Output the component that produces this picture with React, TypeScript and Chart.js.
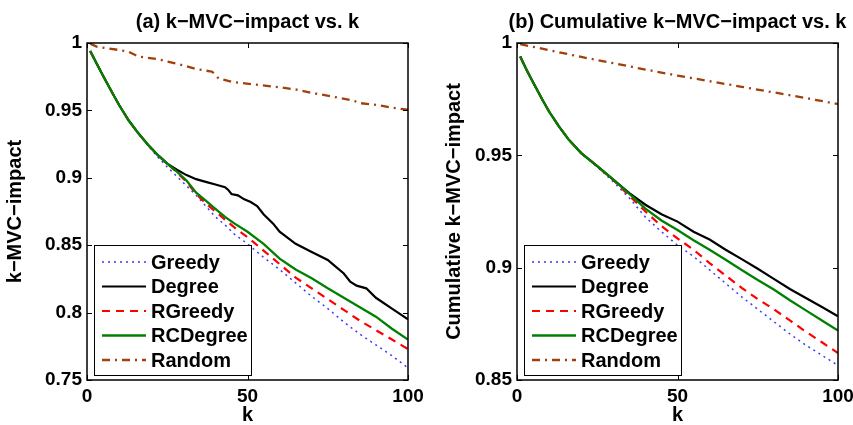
import React, { useEffect, useRef } from 'react';
import { Chart, registerables } from 'chart.js';

Chart.register(...registerables);

const FONT = '"Liberation Sans", Arial, Helvetica, sans-serif';

// ---------- Panel (a): k-MVC-impact vs. k ----------
const kA = [1, 3, 5, 8, 10, 13, 16, 19, 22, 25, 28, 31, 34, 37, 40, 43, 46, 50, 55, 60, 65, 70, 75, 80, 85, 90, 95, 100];
const greedyA = [0.994, 0.9848, 0.9757, 0.9625, 0.954, 0.9425, 0.933, 0.924, 0.9155, 0.908, 0.901, 0.894, 0.887, 0.879, 0.871, 0.865, 0.858, 0.851, 0.841, 0.832, 0.822, 0.812, 0.803, 0.793, 0.784, 0.776, 0.768, 0.759];
const rgreedyA = [0.994, 0.9848, 0.9757, 0.9625, 0.954, 0.9425, 0.933, 0.9245, 0.917, 0.9105, 0.904, 0.897, 0.888, 0.881, 0.875, 0.869, 0.863, 0.856, 0.846, 0.836, 0.826, 0.818, 0.810, 0.802, 0.794, 0.787, 0.780, 0.773];
const rcdegreeA = [0.994, 0.9848, 0.9757, 0.9625, 0.954, 0.9425, 0.933, 0.9245, 0.917, 0.9105, 0.9045, 0.898, 0.889, 0.883, 0.877, 0.871, 0.866, 0.860, 0.851, 0.840, 0.832, 0.8255, 0.818, 0.811, 0.804, 0.797, 0.788, 0.780];
const degreeKA = [1, 3, 5, 8, 10, 13, 16, 19, 22, 25, 28, 31, 34, 37, 40, 43, 44, 45, 47, 49, 51, 53, 55, 58, 60, 65, 70, 75, 77, 80, 82, 84, 87, 90, 95, 100];
const degreeA = [0.994, 0.9848, 0.9757, 0.9625, 0.954, 0.9425, 0.933, 0.9245, 0.917, 0.9105, 0.906, 0.902, 0.899, 0.897, 0.895, 0.893, 0.891, 0.888, 0.887, 0.884, 0.882, 0.879, 0.873, 0.866, 0.860, 0.851, 0.845, 0.839, 0.835, 0.829, 0.823, 0.820, 0.818, 0.811, 0.803, 0.795];
const randomKA = [1, 3, 10, 13, 16, 22, 29, 34, 39, 41, 45, 52, 60, 65, 70, 78, 83, 85, 90, 96, 100];
const randomA = [0.9995, 0.9973, 0.9948, 0.9935, 0.990, 0.988, 0.984, 0.9807, 0.9787, 0.9737, 0.9712, 0.9692, 0.9672, 0.9655, 0.963, 0.9596, 0.9573, 0.9554, 0.9541, 0.9517, 0.9505];
const yTicksA = [0.75, 0.8, 0.85, 0.9, 0.95, 1];

// ---------- Panel (b): Cumulative k-MVC-impact vs. k ----------
const kB = [1, 3, 5, 8, 10, 13, 16, 20, 25, 30, 35, 40, 45, 50, 55, 60, 65, 70, 75, 80, 85, 90, 95, 100];
const greedyB = [0.994, 0.988, 0.9825, 0.9745, 0.9695, 0.963, 0.9572, 0.951, 0.9448, 0.9382, 0.931, 0.9225, 0.916, 0.910, 0.905, 0.899, 0.893, 0.887, 0.8815, 0.876, 0.8705, 0.8655, 0.861, 0.8565];
const degreeB = [0.994, 0.988, 0.9825, 0.9745, 0.9695, 0.963, 0.9572, 0.951, 0.9452, 0.9392, 0.9332, 0.928, 0.9238, 0.9205, 0.916, 0.9125, 0.908, 0.9038, 0.8995, 0.895, 0.8905, 0.8865, 0.8825, 0.8784];
const rgreedyB = [0.994, 0.988, 0.9825, 0.9745, 0.9695, 0.963, 0.9572, 0.951, 0.9452, 0.939, 0.932, 0.925, 0.9185, 0.913, 0.908, 0.902, 0.8965, 0.891, 0.886, 0.8815, 0.8765, 0.8715, 0.8668, 0.862];
const rcdegreeB = [0.994, 0.988, 0.9825, 0.9745, 0.9695, 0.963, 0.9572, 0.951, 0.9452, 0.9392, 0.9328, 0.9263, 0.921, 0.9168, 0.9122, 0.908, 0.9035, 0.899, 0.8945, 0.8903, 0.8855, 0.881, 0.8765, 0.872];
const randomKB = [1, 10, 20, 30, 40, 50, 60, 70, 80, 90, 100];
const randomB = [0.9995, 0.9968, 0.9938, 0.991, 0.9882, 0.9855, 0.983, 0.9805, 0.978, 0.9755, 0.9728];
const yTicksB = [0.85, 0.9, 0.95, 1];

const xTicks = [0, 50, 100];
const seriesNames = ['Greedy', 'Degree', 'RGreedy', 'RCDegree', 'Random'];

const STYLES = [
  { color: '#3a3aff', width: 1.5, dash: [2, 4] },
  { color: '#000000', width: 2.2, dash: [] as number[] },
  { color: '#ff0000', width: 2.2, dash: [8, 6] },
  { color: '#008000', width: 2.3, dash: [] as number[] },
  { color: '#a0400a', width: 2.3, dash: [8, 5, 2, 5] },
];

type Series = { k: number[]; v: number[] };

const framePlugin = {
  id: 'frame',
  afterDraw(chart: any) {
    const { ctx, chartArea: a, scales } = chart;
    ctx.save();
    ctx.strokeStyle = '#000';
    ctx.lineWidth = 1;
    const tl = 5;
    ctx.beginPath();
    scales.x.ticks.forEach((t: any) => {
      const px = Math.round(scales.x.getPixelForValue(t.value)) + 0.5;
      ctx.moveTo(px, a.bottom); ctx.lineTo(px, a.bottom - tl);
      ctx.moveTo(px, a.top); ctx.lineTo(px, a.top + tl);
    });
    scales.y.ticks.forEach((t: any) => {
      const py = Math.round(scales.y.getPixelForValue(t.value)) + 0.5;
      ctx.moveTo(a.left, py); ctx.lineTo(a.left + tl, py);
      ctx.moveTo(a.right, py); ctx.lineTo(a.right - tl, py);
    });
    ctx.stroke();
    ctx.lineWidth = 1.5;
    ctx.strokeRect(a.left, a.top, a.right - a.left, a.bottom - a.top);
    ctx.restore();
  },
};

const legendPlugin = {
  id: 'boxLegend',
  afterDraw(chart: any) {
    const { ctx, chartArea: a } = chart;
    const bx = a.left + 7;
    const bw = 157;
    const bh = 130;
    const by = a.bottom - 5 - bh;
    ctx.save();
    ctx.fillStyle = '#fff';
    ctx.fillRect(bx, by, bw, bh);
    ctx.strokeStyle = '#000';
    ctx.lineWidth = 1;
    ctx.strokeRect(Math.round(bx) + 0.5, Math.round(by) + 0.5, bw, bh);
    const rows = [17, 41.5, 66, 90.5, 115];
    chart.data.datasets.forEach((ds: any, i: number) => {
      const y = by + rows[i];
      ctx.strokeStyle = ds.borderColor;
      ctx.lineWidth = ds.borderWidth;
      ctx.setLineDash(ds.borderDash || []);
      ctx.beginPath();
      ctx.moveTo(bx + 8, y);
      ctx.lineTo(bx + 52, y);
      ctx.stroke();
      ctx.setLineDash([]);
      ctx.fillStyle = '#000';
      ctx.font = `bold 20px ${FONT}`;
      ctx.textAlign = 'left';
      ctx.textBaseline = 'middle';
      ctx.fillText(ds.label, bx + 57, y + 1);
    });
    ctx.restore();
  },
};

const titlePlugin = {
  id: 'panelTitle',
  afterDraw(chart: any) {
    const { ctx, chartArea: a } = chart;
    const text = chart.options.plugins.panelTitle.text;
    ctx.save();
    ctx.fillStyle = '#000';
    ctx.font = `bold 20px ${FONT}`;
    ctx.textAlign = 'center';
    ctx.textBaseline = 'middle';
    ctx.fillText(text, (a.left + a.right) / 2, 22);
    ctx.restore();
  },
};

function Panel(props: {
  width: number;
  title: string;
  yTitle: string;
  yMin: number;
  yTicks: number[];
  rightPad: number;
  yTitlePad: number;
  series: Series[];
}) {
  const ref = useRef<HTMLCanvasElement | null>(null);
  useEffect(() => {
    if (!ref.current) return;
    const tickFont = { family: FONT, size: 19, weight: 'bold' as const };
    const titleFont = { family: FONT, size: 20, weight: 'bold' as const, lineHeight: 1 };
    const chart = new Chart(ref.current, {
      type: 'line',
      data: {
        datasets: props.series.map((s, i) => ({
          label: seriesNames[i],
          data: s.k.map((k, j) => ({ x: k, y: s.v[j] })),
          borderColor: STYLES[i].color,
          backgroundColor: STYLES[i].color,
          borderWidth: STYLES[i].width,
          borderDash: STYLES[i].dash,
          pointRadius: 0,
          fill: false,
          tension: 0,
          order: 5 - i,
        })),
      },
      options: {
        responsive: false,
        animation: false,
        devicePixelRatio: 1,
        layout: { padding: { left: 0, right: props.rightPad, top: 43, bottom: 0 } },
        plugins: {
          legend: { display: false },
          tooltip: { enabled: false },
          title: { display: false },
          panelTitle: { text: props.title },
        } as any,
        scales: {
          x: {
            type: 'linear',
            min: 0,
            max: 100,
            afterBuildTicks: (s: any) => {
              s.ticks = xTicks.map((v) => ({ value: v }));
            },
            ticks: { font: tickFont, color: '#000', padding: 5, maxRotation: 0, autoSkip: false },
            grid: { display: false, drawTicks: false },
            border: { display: false },
            title: { display: true, text: 'k', font: titleFont, color: '#000', padding: { top: 0, bottom: 0 } },
            afterFit: (s: any) => {
              s.height = 45;
              s.paddingLeft = 0;
              s.paddingRight = 0;
            },
          },
          y: {
            type: 'linear',
            min: props.yMin,
            max: 1,
            afterBuildTicks: (s: any) => {
              s.ticks = props.yTicks.map((v) => ({ value: v }));
            },
            ticks: {
              font: tickFont,
              color: '#000',
              padding: 5,
              autoSkip: false,
              callback: (v: any) => String(Number(Number(v).toFixed(2))),
            },
            grid: { display: false, drawTicks: false },
            border: { display: false },
            title: {
              display: true,
              text: props.yTitle,
              font: titleFont,
              color: '#000',
              padding: { top: props.yTitlePad, bottom: 0 },
            },
            afterFit: (s: any) => {
              s.width = 87;
              s.paddingTop = 0;
              s.paddingBottom = 0;
            },
          },
        },
      } as any,
      plugins: [framePlugin, legendPlugin, titlePlugin],
    });
    return () => chart.destroy();
  }, []);
  return (
    <canvas
      ref={ref}
      width={props.width}
      height={425}
      style={{ display: 'block', width: props.width, height: 425 }}
    />
  );
}

export default function App() {
  return (
    <div
      style={{
        position: 'absolute',
        left: 0,
        top: 0,
        width: 853,
        height: 425,
        background: '#fff',
        display: 'flex',
      }}
    >
      <Panel
        width={430}
        title="(a) k−MVC−impact vs. k"
        yTitle="k−MVC−impact"
        yMin={0.75}
        yTicks={yTicksA}
        rightPad={22}
        yTitlePad={5}
        series={[
          { k: kA, v: greedyA },
          { k: degreeKA, v: degreeA },
          { k: kA, v: rgreedyA },
          { k: kA, v: rcdegreeA },
          { k: randomKA, v: randomA },
        ]}
      />
      <Panel
        width={423}
        title="(b) Cumulative k−MVC−impact vs. k"
        yTitle="Cumulative k−MVC−impact"
        yMin={0.85}
        yTicks={yTicksB}
        rightPad={15}
        yTitlePad={14}
        series={[
          { k: kB, v: greedyB },
          { k: kB, v: degreeB },
          { k: kB, v: rgreedyB },
          { k: kB, v: rcdegreeB },
          { k: randomKB, v: randomB },
        ]}
      />
    </div>
  );
}
